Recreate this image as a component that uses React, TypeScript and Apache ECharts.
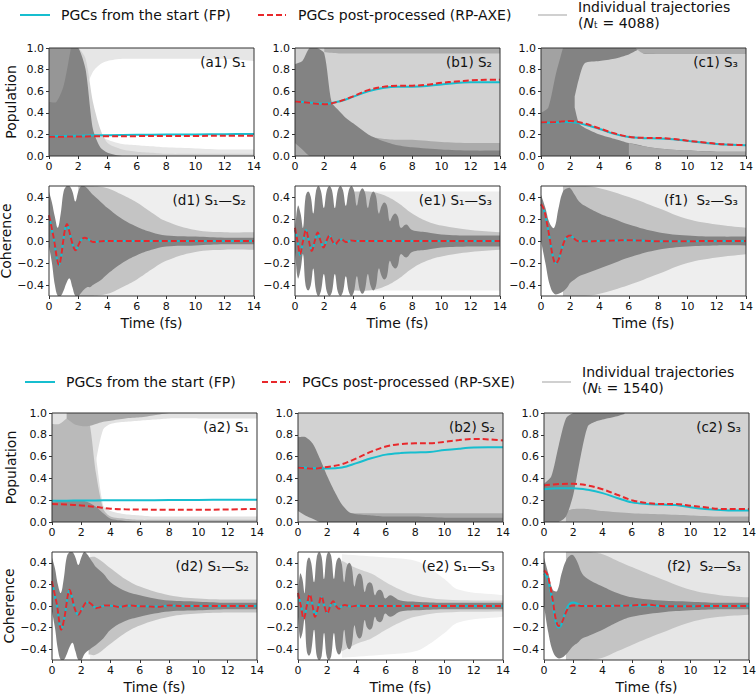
import React, { useEffect, useRef } from "react";
import * as echarts from "echarts";

const FONT = '"DejaVu Sans", "Noto Sans", sans-serif';
const CYAN = "#17becf";
const RED = "#e8282b";
const DARK = "#838383";
const MED = "#ababab";
const LIGHT = "#d2d2d2";
const MIDC = "#c4c4c4";
const PALE = "#eeeeee";

// ---------------- time grids ----------------
const T_POP = [0, 0.5, 1, 1.5, 2, 2.5, 3, 3.5, 4, 5, 6, 7, 8, 10, 12, 14];
const T_LINE = [0, 1, 2, 3, 4, 5, 6, 7, 8, 9, 10, 11, 12, 13, 14];
const ZEROS = [0, 0, 0, 0, 0, 0, 0, 0, 0, 0, 0, 0, 0, 0, 0, 0];
const ONES = [1, 1, 1, 1, 1, 1, 1, 1, 1, 1, 1, 1, 1, 1, 1, 1];
const T_D = [0, 0.2, 0.4, 0.6, 0.8, 1, 1.2, 1.4, 1.6, 1.8, 2, 2.2, 2.4, 2.6, 2.8, 3, 3.5, 4, 5, 6, 7, 8, 10, 12, 14];
const T_F = [0, 0.3, 0.6, 0.9, 1.2, 1.5, 1.8, 2, 2.3, 2.6, 3, 4, 5, 6, 8, 10, 12, 14];
const T_E1 = [0, 0.2, 0.38, 0.55, 0.72, 0.9, 1.08, 1.25, 1.43, 1.6, 1.78, 1.97, 2.17, 2.35, 2.53, 2.72, 2.92, 3.1, 3.28, 3.47, 3.67, 3.85, 4.03, 4.22, 4.42, 4.6, 4.78, 4.97, 5.17, 5.35, 5.53, 5.72, 5.92, 6.1, 6.28, 6.47, 6.67, 6.85, 7.03, 7.22, 7.6, 8, 9, 10, 12, 14];
const T_E2 = [0, 0.15, 0.3, 0.45, 0.6, 0.75, 0.9, 1.1, 1.28, 1.45, 1.62, 1.78, 1.95, 2.1, 2.27, 2.45, 2.62, 2.8, 2.97, 3.15, 3.32, 3.5, 3.67, 3.85, 4.02, 4.2, 4.37, 4.55, 4.72, 4.9, 5.07, 5.25, 5.42, 5.6, 5.77, 5.95, 6.3, 7, 8, 10, 12, 14];

// ---------------- PGC curves (top block, N_t = 4088) ----------------
const a1T = [0, 1, 2, 3, 4, 6, 8, 10, 12, 14];
const a1FP = [0.183, 0.185, 0.188, 0.191, 0.193, 0.196, 0.198, 0.2, 0.202, 0.204];
const a1RP = [0.178, 0.179, 0.181, 0.182, 0.183, 0.184, 0.185, 0.186, 0.187, 0.188];
const b1T = T_LINE;
const b1FP = [0.505, 0.495, 0.483, 0.505, 0.55, 0.6, 0.63, 0.642, 0.642, 0.648, 0.662, 0.675, 0.682, 0.684, 0.684];
const b1RP = [0.505, 0.492, 0.48, 0.505, 0.555, 0.61, 0.64, 0.65, 0.651, 0.66, 0.678, 0.69, 0.7, 0.705, 0.705];
const c1T = T_LINE;
const c1FP = [0.305, 0.31, 0.315, 0.29, 0.25, 0.205, 0.175, 0.165, 0.163, 0.155, 0.14, 0.125, 0.112, 0.104, 0.1];
const c1RP = [0.31, 0.315, 0.325, 0.3, 0.255, 0.21, 0.178, 0.168, 0.167, 0.158, 0.142, 0.127, 0.113, 0.105, 0.1];
const d1T = [0, 0.15, 0.35, 0.55, 0.68, 0.82, 0.95, 1.1, 1.23, 1.38, 1.55, 1.7, 1.82, 2, 2.2, 2.44, 2.7, 3, 3.4, 4, 14];
const d1FP = [0.23, 0.13, 0, -0.17, -0.22, -0.15, -0.02, 0.11, 0.155, 0.09, 0, -0.065, -0.085, -0.04, 0.01, 0.03, 0.015, -0.01, -0.005, 0, 0];
const d1RP = [0.235, 0.14, 0.005, -0.165, -0.22, -0.15, -0.02, 0.11, 0.155, 0.09, 0, -0.065, -0.085, -0.04, 0.01, 0.03, 0.015, -0.01, -0.005, 0, 0];
const e1T = [0, 0.17, 0.35, 0.55, 0.75, 0.95, 1.15, 1.35, 1.55, 1.75, 1.95, 2.15, 2.35, 2.55, 2.75, 2.95, 3.15, 3.35, 3.55, 3.8, 4.2, 5, 14];
const e1FP = [0.1, 0.01, -0.13, -0.01, 0.1, 0.005, -0.09, 0, 0.075, 0, -0.058, 0, 0.045, 0, -0.028, 0, 0.015, 0, -0.008, 0.003, 0, 0, 0];
const e1RP = [0.12, 0, -0.12, 0, 0.1, 0, -0.09, 0, 0.078, 0, -0.06, 0, 0.05, 0, -0.03, 0, 0.02, 0, -0.01, 0.004, 0, 0, 0];
const f1T = [0, 0.2, 0.4, 0.6, 0.8, 1, 1.2, 1.4, 1.6, 1.8, 2, 2.2, 2.5, 3, 4, 5, 6, 7, 8, 10, 12, 14];
const f1FP = [0.33, 0.28, 0.16, 0.02, -0.13, -0.2, -0.17, -0.08, 0, 0.04, 0.05, 0.03, 0, -0.003, 0, 0.004, 0.007, 0.003, -0.003, -0.002, 0, 0];
const f1RP = [0.335, 0.285, 0.165, 0.02, -0.135, -0.205, -0.17, -0.08, 0, 0.04, 0.05, 0.03, 0, -0.003, 0, 0.004, 0.007, 0.003, -0.003, -0.002, 0, 0];

// ---------------- PGC curves (bottom block, N_t = 1540) ----------------
const a2T = [0, 1, 2, 3, 4, 5, 6, 8, 10, 12, 14];
const a2FP = [0.195, 0.196, 0.197, 0.198, 0.199, 0.2, 0.2, 0.201, 0.202, 0.204, 0.205];
const a2RP = [0.165, 0.16, 0.152, 0.138, 0.122, 0.116, 0.114, 0.113, 0.112, 0.115, 0.12];
const b2T = T_LINE;
const b2FP = [0.505, 0.495, 0.49, 0.5, 0.54, 0.585, 0.618, 0.632, 0.638, 0.643, 0.66, 0.673, 0.683, 0.685, 0.685];
const b2RP = [0.5, 0.49, 0.505, 0.53, 0.585, 0.645, 0.692, 0.715, 0.722, 0.723, 0.735, 0.752, 0.762, 0.758, 0.748];
const c2T = T_LINE;
const c2FP = [0.3, 0.31, 0.31, 0.295, 0.265, 0.22, 0.18, 0.165, 0.16, 0.155, 0.135, 0.12, 0.11, 0.105, 0.105];
const c2RP = [0.335, 0.348, 0.35, 0.335, 0.3, 0.25, 0.2, 0.175, 0.165, 0.165, 0.15, 0.135, 0.12, 0.12, 0.12];
const d2T = [0, 0.15, 0.35, 0.5, 0.62, 0.8, 0.95, 1.08, 1.2, 1.35, 1.5, 1.65, 1.8, 2, 2.2, 2.4, 2.7, 3, 3.3, 3.6, 4, 4.6, 5.2, 5.8, 6.5, 7.2, 8, 9, 14];
const d2FP = [0.22, 0.12, -0.005, -0.155, -0.215, -0.14, -0.02, 0.1, 0.15, 0.09, 0, -0.06, -0.08, -0.04, 0.01, 0.035, 0.012, -0.015, -0.008, 0.003, 0.003, -0.006, 0.003, 0, -0.002, -0.004, 0.003, 0, 0];
const d2RP = [0.23, 0.13, 0, -0.15, -0.22, -0.14, -0.02, 0.1, 0.15, 0.09, 0, -0.06, -0.08, -0.04, 0.01, 0.04, 0.015, -0.02, -0.01, 0.005, 0.005, -0.01, 0.005, 0, -0.004, -0.008, 0.005, 0, 0];
const e2T = [0, 0.2, 0.39, 0.6, 0.8, 1, 1.16, 1.4, 1.6, 1.8, 2, 2.2, 2.4, 2.6, 2.8, 3, 3.2, 3.6, 4, 4.5, 5, 14];
const e2FP = [0.1, 0.02, -0.11, -0.01, 0.1, 0.01, -0.09, 0, 0.08, 0, -0.06, 0, 0.04, 0, -0.02, 0, 0.008, -0.004, 0.002, 0, 0, 0];
const e2RP = [0.12, 0, -0.12, 0, 0.11, 0, -0.1, 0, 0.09, 0, -0.07, 0, 0.045, 0, -0.025, 0, 0.01, -0.005, 0.003, 0, 0, 0];
const f2T = [0, 0.2, 0.4, 0.6, 0.8, 1, 1.2, 1.4, 1.6, 1.8, 2, 2.3, 2.6, 3, 4, 5, 6, 7, 8, 9, 10, 12, 14];
const f2FP = [0.3, 0.27, 0.17, 0.02, -0.15, -0.2, -0.17, -0.08, -0.01, 0.025, 0.033, 0.02, 0.005, 0, 0, 0.002, 0.004, 0.005, 0, -0.002, -0.002, 0, 0];
const f2RP = [0.33, 0.3, 0.2, 0.05, -0.12, -0.185, -0.16, -0.09, -0.03, 0, 0.005, 0.005, 0, 0, 0, 0.002, 0.005, 0.012, 0, -0.003, -0.002, 0, 0];

// ---------------- trajectory envelopes (density bands) ----------------
const a1Bands = [
  { c: "#e6e6e6", t: T_POP, lo: ZEROS, hi: [1, 1, 1, 1, 1, 0.6, 0.3, 0.2, 0.15, 0.11, 0.1, 0.09, 0.08, 0.07, 0.06, 0.06] },
  { c: "#e6e6e6", t: T_POP, lo: [0, 0, 0, 0, 0, 0.6, 0.78, 0.85, 0.88, 0.9, 0.9, 0.9, 0.9, 0.9, 0.9, 0.88], hi: ONES },
  { c: LIGHT, t: T_POP, lo: ZEROS, hi: [1, 1, 1, 1, 1, 0.9, 0.5, 0.25, 0.12, 0.06, 0.04, 0.03, 0.02, 0.02, 0.02, 0.02] },
  { c: DARK, t: T_POP, lo: ZEROS, hi: [1, 1, 1, 1, 1, 0.8, 0.25, 0.08, 0.03, 0, 0, 0, 0, 0, 0, 0] },
  { c: "#969696", t: [0, 0.5, 1, 1.5], lo: [0.5, 0.5, 0.65, 1], hi: [1, 1, 1, 1] },
];
const b1Bands = [
  { c: LIGHT, t: [0, 14], lo: [0, 0], hi: [1, 1] },
  { c: MED, t: T_POP, lo: ZEROS, hi: [0.2, 0.2, 0.2, 0.2, 0.2, 0.25, 0.3, 0.26, 0.22, 0.18, 0.16, 0.15, 0.15, 0.13, 0.12, 0.12] },
  { c: MED, t: [2, 3, 14], lo: [0.96, 0.95, 0.95], hi: [1, 1, 1] },
  { c: DARK, t: T_POP, lo: [0.12, 0.06, 0, 0, 0, 0, 0, 0, 0, 0, 0, 0, 0, 0, 0, 0], hi: [0.85, 0.88, 1, 1, 0.95, 0.5, 0.42, 0.35, 0.3, 0.2, 0.14, 0.1, 0.08, 0.06, 0.05, 0.05] },
];
// c1: dark everywhere, then the lighter interior and edges are laid over it
const c1Bands = [
  { c: DARK, t: [0, 14], lo: [0, 0], hi: [1, 1] },
  { c: LIGHT, t: [2.3, 2.6, 3, 4, 5, 6, 6.8, 7, 8, 10, 12, 14],
    lo: [0.45, 0.3, 0.26, 0.2, 0.16, 0.12, 0.1, 0.09, 0.07, 0.05, 0.04, 0.04],
    hi: [0.55, 0.72, 0.86, 0.88, 0.9, 0.94, 0.99, 0.95, 0.95, 0.95, 0.95, 0.95] },
  { c: MED, t: [6.5, 7, 14], lo: [0.99, 0.95, 0.95], hi: [1, 1, 1] },
  { c: MED, t: [6, 7, 8, 10, 12, 14], lo: [0, 0, 0, 0, 0, 0], hi: [0.12, 0.09, 0.07, 0.05, 0.04, 0.04] },
  { c: "#a2a2a2", t: [0, 0.5, 1, 1.5], lo: [0.4, 0.45, 0.75, 1], hi: [1, 1, 1, 1] },
];
const d1Bands = [
  { c: PALE, t: [2.6, 14], lo: [-0.5, -0.5], hi: [0.5, 0.5] },
  { c: MIDC, t: [2, 3, 4, 5, 6, 7, 8, 10, 12, 14], lo: [-0.5, -0.5, -0.48, -0.42, -0.35, -0.26, -0.18, -0.1, -0.08, -0.08], hi: [0.5, 0.5, 0.48, 0.42, 0.35, 0.26, 0.18, 0.1, 0.08, 0.08] },
  { c: DARK, t: T_D,
    lo: [-0.05, -0.2, -0.4, -0.5, -0.5, -0.45, -0.38, -0.34, -0.42, -0.5, -0.5, -0.47, -0.44, -0.42, -0.42, -0.4, -0.36, -0.3, -0.2, -0.13, -0.08, -0.05, -0.04, -0.03, -0.03],
    hi: [0.45, 0.35, 0.22, 0.12, 0.25, 0.45, 0.5, 0.5, 0.45, 0.36, 0.45, 0.5, 0.5, 0.48, 0.45, 0.42, 0.36, 0.3, 0.2, 0.13, 0.08, 0.05, 0.04, 0.03, 0.03] },
];
const e1Bands = [
  { c: PALE, t: [5, 14], lo: [-0.45, -0.45], hi: [0.45, 0.45] },
  { c: MIDC, t: [4, 5, 6, 7, 8, 9, 10, 12, 14], lo: [-0.45, -0.45, -0.42, -0.35, -0.25, -0.18, -0.14, -0.1, -0.08], hi: [0.45, 0.45, 0.42, 0.35, 0.25, 0.18, 0.14, 0.1, 0.08] },
  { c: DARK, t: T_E1,
    lo: [-0.1, -0.34, -0.26, -0.12, -0.4, -0.45, -0.4, -0.25, -0.45, -0.5, -0.45, -0.3, -0.46, -0.5, -0.46, -0.3, -0.46, -0.5, -0.46, -0.32, -0.46, -0.5, -0.46, -0.32, -0.44, -0.48, -0.44, -0.3, -0.41, -0.45, -0.41, -0.25, -0.32, -0.35, -0.32, -0.18, -0.23, -0.25, -0.22, -0.12, -0.15, -0.1, -0.08, -0.06, -0.05, -0.05],
    hi: [0.1, 0.32, 0.25, 0.12, 0.4, 0.45, 0.4, 0.25, 0.45, 0.5, 0.45, 0.3, 0.46, 0.5, 0.46, 0.3, 0.46, 0.5, 0.46, 0.32, 0.46, 0.5, 0.46, 0.32, 0.44, 0.48, 0.44, 0.3, 0.41, 0.45, 0.41, 0.25, 0.32, 0.35, 0.32, 0.18, 0.23, 0.25, 0.22, 0.12, 0.15, 0.1, 0.08, 0.06, 0.05, 0.05] },
];
const f1Bands = [
  { c: PALE, t: [1.5, 14], lo: [-0.5, -0.5], hi: [0.5, 0.5] },
  { c: MIDC, t: [1.5, 3, 4, 6, 8, 10, 12, 14], lo: [-0.5, -0.5, -0.48, -0.4, -0.3, -0.2, -0.15, -0.12], hi: [0.5, 0.5, 0.48, 0.4, 0.3, 0.2, 0.15, 0.12] },
  { c: DARK, t: T_F,
    lo: [0, -0.2, -0.4, -0.48, -0.48, -0.46, -0.42, -0.38, -0.35, -0.32, -0.3, -0.25, -0.2, -0.15, -0.08, -0.05, -0.04, -0.04],
    hi: [0.42, 0.3, 0.16, 0.12, 0.3, 0.45, 0.48, 0.48, 0.42, 0.36, 0.32, 0.25, 0.2, 0.15, 0.08, 0.05, 0.04, 0.04] },
];
const a2Bands = [
  { c: "#e2e2e2", t: T_POP, lo: ZEROS, hi: [1, 1, 1, 1, 1, 1, 0.6, 0.15, 0.1, 0.07, 0.06, 0.05, 0.05, 0.05, 0.05, 0.05] },
  { c: "#e2e2e2", t: T_POP, lo: [0, 0, 0, 0, 0, 0, 0.55, 0.85, 0.9, 0.92, 0.93, 0.94, 0.95, 0.95, 0.95, 0.95], hi: ONES },
  { c: "#bababa", t: T_POP, lo: ZEROS, hi: [0.9, 0.9, 0.95, 1, 1, 0.95, 0.45, 0.12, 0.05, 0.03, 0.02, 0.02, 0.02, 0.02, 0.02, 0.02] },
  { c: "#a8a8a8", t: [1, 1.5, 2, 2.5, 3, 3.5, 4, 5, 6, 7, 8], lo: [0.95, 0.9, 0.88, 0.88, 0.9, 0.92, 0.93, 0.95, 0.96, 0.98, 1], hi: [1, 1, 1, 1, 1, 1, 1, 1, 1, 1, 1] },
  { c: "#8c8c8c", t: T_POP, lo: ZEROS, hi: [0.18, 0.2, 0.2, 0.2, 0.2, 0.18, 0.14, 0.08, 0.03, 0.01, 0, 0, 0, 0, 0, 0] },
];
const b2Bands = [
  { c: LIGHT, t: [0, 14], lo: [0, 0], hi: [1, 1] },
  { c: MED, t: [3, 14], lo: [0, 0], hi: [0.08, 0.08] },
  { c: DARK, t: T_POP, lo: [0.1, 0.06, 0.03, 0, 0, 0, 0, 0, 0, 0, 0, 0, 0, 0, 0, 0], hi: [0.78, 0.78, 0.72, 0.58, 0.42, 0.28, 0.16, 0.09, 0.07, 0.06, 0.05, 0.05, 0.05, 0.04, 0.04, 0.04] },
];
const c2Bands = [
  { c: LIGHT, t: [0, 14], lo: [0, 0], hi: [1, 1] },
  { c: MED, t: [1.5, 2, 3, 4, 6, 8, 10, 12, 14], lo: [0, 0, 0, 0, 0, 0, 0, 0, 0], hi: [0.1, 0.12, 0.12, 0.1, 0.08, 0.07, 0.06, 0.05, 0.05] },
  { c: DARK, t: [0, 0.5, 1, 1.5, 2, 2.5, 3, 3.5, 4, 5, 5.5],
    lo: [0, 0, 0, 0.05, 0.25, 0.6, 0.88, 0.92, 0.94, 0.97, 0.99],
    hi: [0.35, 0.42, 0.7, 0.95, 1, 1, 1, 1, 1, 1, 1] },
];
const d2Bands = [
  { c: PALE, t: [2.6, 14], lo: [-0.5, -0.5], hi: [0.5, 0.5] },
  { c: MIDC, t: [2.5, 3, 4, 5, 6, 8, 10, 12, 14], lo: [-0.45, -0.45, -0.35, -0.25, -0.18, -0.1, -0.07, -0.06, -0.06], hi: [0.45, 0.45, 0.35, 0.25, 0.18, 0.1, 0.07, 0.06, 0.06] },
  { c: DARK, t: T_D,
    lo: [-0.05, -0.2, -0.4, -0.5, -0.5, -0.45, -0.38, -0.34, -0.42, -0.5, -0.5, -0.45, -0.42, -0.4, -0.38, -0.36, -0.3, -0.22, -0.14, -0.1, -0.07, -0.05, -0.04, -0.03, -0.03],
    hi: [0.45, 0.35, 0.2, 0.12, 0.25, 0.45, 0.5, 0.5, 0.45, 0.38, 0.45, 0.5, 0.48, 0.44, 0.4, 0.36, 0.3, 0.22, 0.14, 0.1, 0.07, 0.05, 0.04, 0.03, 0.03] },
];
const e2Bands = [
  { c: "#f0f0f0", t: [3, 6, 8, 9, 10, 11, 14], lo: [-0.48, -0.45, -0.42, -0.35, -0.25, -0.15, -0.1], hi: [0.48, 0.45, 0.42, 0.35, 0.25, 0.15, 0.1] },
  { c: "#d0d0d0", t: [3, 4, 5, 6, 7, 8, 10, 14], lo: [-0.42, -0.35, -0.3, -0.22, -0.15, -0.1, -0.06, -0.05], hi: [0.42, 0.35, 0.3, 0.22, 0.15, 0.1, 0.06, 0.05] },
  { c: DARK, t: T_E2,
    lo: [-0.1, -0.3, -0.25, -0.12, -0.42, -0.46, -0.42, -0.22, -0.46, -0.5, -0.46, -0.25, -0.46, -0.5, -0.46, -0.25, -0.41, -0.45, -0.41, -0.22, -0.36, -0.4, -0.36, -0.18, -0.27, -0.3, -0.27, -0.13, -0.2, -0.22, -0.2, -0.1, -0.14, -0.15, -0.13, -0.07, -0.1, -0.05, -0.04, -0.03, -0.03, -0.03],
    hi: [0.1, 0.3, 0.25, 0.12, 0.4, 0.45, 0.4, 0.22, 0.45, 0.5, 0.45, 0.25, 0.46, 0.5, 0.46, 0.25, 0.41, 0.45, 0.41, 0.22, 0.36, 0.4, 0.36, 0.18, 0.27, 0.3, 0.27, 0.13, 0.2, 0.22, 0.2, 0.1, 0.14, 0.15, 0.13, 0.07, 0.1, 0.05, 0.04, 0.03, 0.03, 0.03] },
];
const f2Bands = [
  { c: "#e6e6e6", t: [1.5, 14], lo: [-0.5, -0.5], hi: [0.5, 0.5] },
  { c: MIDC, t: [1.5, 3, 4, 5, 6, 8, 10, 12, 14], lo: [-0.5, -0.5, -0.48, -0.42, -0.36, -0.25, -0.15, -0.1, -0.08], hi: [0.5, 0.5, 0.48, 0.42, 0.36, 0.25, 0.15, 0.1, 0.08] },
  { c: DARK, t: T_F,
    lo: [0, -0.25, -0.42, -0.48, -0.48, -0.45, -0.4, -0.37, -0.34, -0.3, -0.28, -0.22, -0.15, -0.1, -0.06, -0.04, -0.03, -0.03],
    hi: [0.45, 0.3, 0.15, 0.14, 0.3, 0.42, 0.47, 0.47, 0.4, 0.3, 0.25, 0.18, 0.12, 0.08, 0.05, 0.04, 0.03, 0.03] },
];

const PANELS = [
  { bands: a1Bands, t: a1T, fp: a1FP, rp: a1RP, label: "(a1) S\u2081" },
  { bands: b1Bands, t: b1T, fp: b1FP, rp: b1RP, label: "(b1) S\u2082" },
  { bands: c1Bands, t: c1T, fp: c1FP, rp: c1RP, label: "(c1) S\u2083" },
  { bands: d1Bands, t: d1T, fp: d1FP, rp: d1RP, label: "(d1) S\u2081\u2014S\u2082" },
  { bands: e1Bands, t: e1T, fp: e1FP, rp: e1RP, label: "(e1) S\u2081\u2014S\u2083" },
  { bands: f1Bands, t: f1T, fp: f1FP, rp: f1RP, label: "(f1)  S\u2082\u2014S\u2083" },
  { bands: a2Bands, t: a2T, fp: a2FP, rp: a2RP, label: "(a2) S\u2081" },
  { bands: b2Bands, t: b2T, fp: b2FP, rp: b2RP, label: "(b2) S\u2082" },
  { bands: c2Bands, t: c2T, fp: c2FP, rp: c2RP, label: "(c2) S\u2083" },
  { bands: d2Bands, t: d2T, fp: d2FP, rp: d2RP, label: "(d2) S\u2081\u2014S\u2082" },
  { bands: e2Bands, t: e2T, fp: e2FP, rp: e2RP, label: "(e2) S\u2081\u2014S\u2083" },
  { bands: f2Bands, t: f2T, fp: f2FP, rp: f2RP, label: "(f2)  S\u2082\u2014S\u2083" },
];

const COH_TICKS = [-0.4, -0.2, 0, 0.2, 0.4];
const LEGENDS = [
  { y: 15, fpX: 20, rpX: 258, itX: 538, rpText: "PGCs post-processed (RP-AXE)", n: "4088", y1: 7, y2: 23 },
  { y: 382, fpX: 25, rpX: 262, itX: 542, rpText: "PGCs post-processed (RP-SXE)", n: "1540", y1: 372, y2: 388 },
];

// layout
const ROW_TOP = [48, 186, 413, 552];
const ROW_H = [108, 110, 109, 108];
const COL_L = [[49, 295, 541], [49, 295, 541], [52, 298, 544], [52, 298, 544]];
const NAME_GAP = [31, 28, 34, 32];
const COL_W = 205;

type Band = { c: string; t: number[]; lo: number[]; hi: number[] };

// one custom-series polygon per density band: upper edge left->right, lower edge right->left
function bandSeries(b: Band, gi: number, smooth: number) {
  return {
    type: "custom", xAxisIndex: gi, yAxisIndex: gi, clip: true, silent: true, z: 2,
    data: b.t.map((t, i) => [t, b.lo[i], b.hi[i]]),
    encode: { x: 0, y: [1, 2] },
    renderItem: (params: any, api: any) => {
      if (params.dataIndex !== 0) return null;
      const top = b.t.map((t, i) => api.coord([t, b.hi[i]]));
      const bot = b.t.map((t, i) => api.coord([t, b.lo[i]])).reverse();
      // end points are doubled so that the smoothing keeps the corners sharp
      const pts = [top[0], ...top, top[top.length - 1], bot[0], ...bot, bot[bot.length - 1]];
      return { type: "polygon", shape: { points: pts, smooth }, style: { fill: b.c } };
    },
  };
}

function buildOption() {
  const grid: any[] = [];
  const xAxis: any[] = [];
  const yAxis: any[] = [];
  const series: any[] = [];
  const graphic: any[] = [];
  const txt = { fontFamily: FONT, color: "#111" };

  PANELS.forEach((p, gi) => {
    const row = Math.floor(gi / 3);
    const col = gi % 3;
    const coh = row % 2 === 1;
    const left = COL_L[row][col];
    const top = ROW_TOP[row];
    const h = ROW_H[row];
    grid.push({ left, top, width: COL_W, height: h, containLabel: false, outerBoundsMode: "none" });
    xAxis.push({
      type: "value", gridIndex: gi, min: 0, max: 14, interval: 2,
      axisLine: { show: false, onZero: false },
      axisTick: { show: true, length: 3, lineStyle: { color: "#333", width: 1 } },
      axisLabel: { ...txt, fontSize: 11, margin: 5, formatter: (v: number) => String(v) },
      splitLine: { show: false },
      name: coh ? "Time (fs)" : "", nameLocation: "middle", nameGap: 20,
      nameTextStyle: { ...txt, fontSize: 14 },
    });
    const yName = col === 0 ? (coh ? "Coherence" : "Population") : "";
    const yBase: any = {
      type: "value", gridIndex: gi,
      axisLine: { show: false, onZero: false },
      splitLine: { show: false },
      name: yName, nameLocation: "middle", nameRotate: 90, nameGap: NAME_GAP[row],
      nameTextStyle: { ...txt, fontSize: 14 },
    };
    if (coh) {
      yAxis.push({
        ...yBase, min: -0.5, max: 0.5,
        axisTick: { show: true, length: 3, lineStyle: { color: "#333", width: 1 }, customValues: COH_TICKS },
        axisLabel: { ...txt, fontSize: 11, margin: 5, customValues: COH_TICKS,
          formatter: (v: number) => (v < -1e-9 ? "\u2212" + Math.abs(v).toFixed(1) : Math.abs(v).toFixed(1)) },
      });
    } else {
      yAxis.push({
        ...yBase, min: 0, max: 1, interval: 0.2,
        axisTick: { show: true, length: 3, lineStyle: { color: "#333", width: 1 } },
        axisLabel: { ...txt, fontSize: 11, margin: 5, formatter: (v: number) => v.toFixed(1) },
      });
    }
    const sm = coh ? 0.4 : 0.25;
    p.bands.forEach((b) => series.push(bandSeries(b, gi, sm)));
    series.push({
      type: "line", xAxisIndex: gi, yAxisIndex: gi, name: "PGCs from the start (FP)",
      data: p.t.map((t, i) => [t, p.fp[i]]), symbol: "none", smooth: 0.35, silent: true, z: 3,
      lineStyle: { color: CYAN, width: 2 },
    });
    series.push({
      type: "line", xAxisIndex: gi, yAxisIndex: gi, name: "PGCs post-processed",
      data: p.t.map((t, i) => [t, p.rp[i]]), symbol: "none", smooth: 0.35, silent: true, z: 4,
      lineStyle: { color: RED, width: 2, type: [6, 3] },
    });
    graphic.push({
      type: "rect", silent: true, z: 100,
      shape: { x: left, y: top, width: COL_W, height: h },
      style: { fill: "none", stroke: "#333", lineWidth: 1 },
    });
    graphic.push({
      type: "text", silent: true, z: 101, x: left + COL_W - 8, y: top + 14,
      style: { text: p.label, align: "right", verticalAlign: "middle", fontSize: 13.5, fontFamily: FONT, fill: "#111" },
    });
  });

  LEGENDS.forEach((L) => {
    graphic.push({ type: "line", silent: true, z: 100, shape: { x1: L.fpX, y1: L.y, x2: L.fpX + 30, y2: L.y }, style: { stroke: CYAN, lineWidth: 2 } });
    graphic.push({ type: "text", silent: true, z: 100, x: L.fpX + 41, y: L.y, style: { text: "PGCs from the start (FP)", verticalAlign: "middle", fontSize: 14, fontFamily: FONT, fill: "#111" } });
    graphic.push({ type: "line", silent: true, z: 100, shape: { x1: L.rpX, y1: L.y, x2: L.rpX + 28, y2: L.y }, style: { stroke: RED, lineWidth: 2, lineDash: [6, 3] } });
    graphic.push({ type: "text", silent: true, z: 100, x: L.rpX + 40, y: L.y, style: { text: L.rpText, verticalAlign: "middle", fontSize: 14, fontFamily: FONT, fill: "#111" } });
    graphic.push({ type: "line", silent: true, z: 100, shape: { x1: L.itX, y1: L.y, x2: L.itX + 29, y2: L.y }, style: { stroke: "#d0d0d0", lineWidth: 2 } });
    graphic.push({ type: "text", silent: true, z: 100, x: L.itX + 40, y: L.y1, style: { text: "Individual trajectories", verticalAlign: "middle", fontSize: 14, fontFamily: FONT, fill: "#111" } });
    graphic.push({
      type: "text", silent: true, z: 100, x: L.itX + 40, y: L.y2,
      style: {
        text: "({i|N}\u209c = " + L.n + ")", verticalAlign: "middle", fontSize: 14, fontFamily: FONT, fill: "#111",
        rich: { i: { fontStyle: "italic", fontSize: 14, fontFamily: FONT, fill: "#111" } },
      },
    });
  });

  return { animation: false, backgroundColor: "#ffffff", grid, xAxis, yAxis, series, graphic };
}

export default function App() {
  const ref = useRef<HTMLDivElement>(null);
  useEffect(() => {
    if (!ref.current) return;
    const chart = echarts.init(ref.current, undefined, { renderer: "svg" });
    chart.setOption(buildOption() as any);
    return () => chart.dispose();
  }, []);
  return <div ref={ref} style={{ position: "absolute", left: 0, top: 0, width: 756, height: 694 }} />;
}
